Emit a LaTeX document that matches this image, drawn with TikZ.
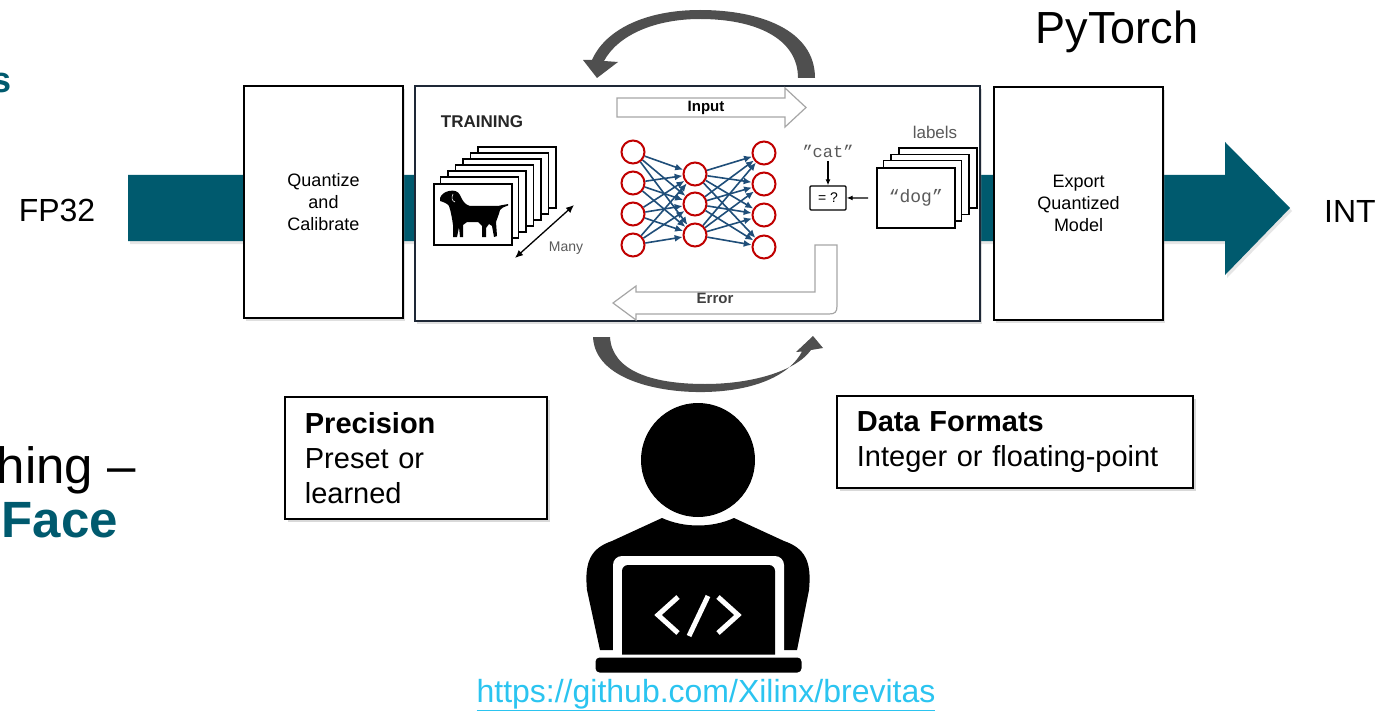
\documentclass[tikz,border=0pt]{standalone}
\usepackage{fontspec}
\setmainfont{Liberation Sans}
\setmonofont{Liberation Mono}
\usetikzlibrary{arrows.meta, shadows, positioning}

\definecolor{flowteal}{HTML}{005A6E}
\definecolor{netred}{HTML}{C00000}
\definecolor{netblue}{HTML}{1F4E79}
\definecolor{bendgrey}{HTML}{4F4F4F}
\definecolor{blockgrey}{HTML}{A6A6A6}
\definecolor{framenavy}{HTML}{1E2836}
\definecolor{linkcyan}{HTML}{2BC4F0}
\definecolor{softgrey}{HTML}{5A5A5A}

\newcommand{\setfs}[2]{\fontsize{#1}{#2}\selectfont}

\tikzset{
  stage/.style={draw, line width=1.8pt, fill=white, align=center, font=\setfs{18}{22},
    drop shadow={opacity=0.25, shadow xshift=2pt, shadow yshift=-3pt}},
  note/.style={draw, line width=1.8pt, fill=white, align=left, anchor=north west,
    inner xsep=20pt, font=\setfs{29}{35},
    drop shadow={opacity=0.3, shadow xshift=3pt, shadow yshift=-3pt}},
  neuron/.style={circle, draw=netred, line width=2pt, fill=white, minimum size=23pt, inner sep=0pt},
  synapse/.style={netblue, line width=1.6pt, -{Latex[length=8pt, width=7pt]}},
  card/.style={draw, line width=1.6pt, fill=white},
  block/.style={draw=blockgrey, line width=1.2pt, fill=white},
  loopfill/.style={fill=bendgrey},
}

\begin{document}
\begin{tikzpicture}[x=1pt, y=-1pt]
  \useasboundingbox (0,0) rectangle (1378,714);
  \clip (0,0) rectangle (1378,714);

  % slide text running in from the left
  \node[anchor=base east, inner sep=0pt, font=\setfs{36}{40}\bfseries, text=flowteal] (titletail) at (12,93) {s};
  \node[anchor=base east, inner sep=0pt, font=\setfs{51}{60}] (linetail) at (136,483) {hing –};
  \node[anchor=base east, inner sep=0pt, font=\setfs{51}{60}\bfseries, text=flowteal] (facetail) at (118,537) {Face};

  % FP32 -> INT flow
  \fill[flowteal, drop shadow={opacity=0.2, shadow xshift=2pt, shadow yshift=-3pt}]
    (128,175) -- (1225,175) -- (1225,142) -- (1290,208) -- (1225,275) -- (1225,241) -- (128,241) -- cycle;
  \node[font=\setfs{32}{38}] (fp) at (57,210) {FP32};
  \node[font=\setfs{32}{38}] (int) at (1350,211) {INT};
  \node[font=\setfs{45}{50}] (torch) at (1117,32) {PyTorch};

  % stages
  \node[stage, minimum width=159pt, minimum height=232pt] (quant) at (323.5,202) {Quantize\\and\\Calibrate};
  \node[stage, draw=framenavy, line width=2.4pt, minimum width=565pt, minimum height=235pt] (train) at (697.5,203.5) {};
  \node[stage, minimum width=169pt, minimum height=233pt] (export) at (1078.5,203.5) {Export\\Quantized\\Model};

  % training data
  \node[font=\setfs{17}{20}\bfseries, text=black!85] (trainlbl) at (482,122) {TRAINING};
  \foreach \k in {6,...,1}
    \draw[card] ({433+7.5*\k},{183-6*\k}) rectangle ++(78,61);
  \node[card, anchor=north west, minimum width=78pt, minimum height=61pt] (photo) at (433,183) {};
  % dog
  \fill (440,198) .. controls (441,195) and (444,192) .. (449,191) .. controls (454,190) and (458,191) .. (460,195)
    .. controls (462,200) and (465,205) .. (470,206) -- (498,206) .. controls (501,205) and (504,205) .. (508,204)
    -- (508,205.5) .. controls (504,207) and (501,208) .. (500,210) .. controls (499,215) and (497,218) .. (496,222)
    -- (497,236) -- (494,237) -- (492,226) -- (489,224) -- (486,228) -- (486,237) -- (482,237) -- (482,226)
    -- (478,222) -- (467,222) -- (463,225) -- (463,237) -- (460,237) -- (459,227) -- (457,237) -- (453,237)
    -- (453,225) .. controls (452,218) and (451,212) .. (449,206) .. controls (447,203) and (443,202) .. (440,201) -- cycle;
  \draw[white, line width=0.6pt] (453,194) .. controls (451,198) and (452,201) .. (455,202);
  \coordinate (manya) at (515,258);
  \coordinate (manyb) at (574,205);
  \draw[line width=1.3pt, {Latex[length=8pt, width=7pt]}-{Latex[length=8pt, width=7pt]}] (manya) -- (manyb);
  \node[font=\setfs{14}{16}, text=softgrey] (many) at (566,248) {Many};

  % network
  \foreach \i/\y in {1/152, 2/183, 3/214, 4/245}
    \node[neuron] (in\i) at (633,\y) {};
  \foreach \i/\y in {1/174, 2/204, 3/235}
    \node[neuron] (hid\i) at (695,\y) {};
  \foreach \i/\y in {1/153, 2/184, 3/215, 4/247}
    \node[neuron] (out\i) at (764,\y) {};
  \foreach \i in {1,...,4}
    \foreach \j in {1,...,3} {
      \draw[synapse] (in\i) -- (hid\j);
      \draw[synapse] (hid\j) -- (out\i);
    }

  % forward and backward passes
  \draw[block] (617,98) -- (785,98) -- (785,88) -- (806,107.5) -- (785,127) -- (785,117) -- (617,117) -- cycle;
  \node[font=\setfs{15}{18}\bfseries] (inputlbl) at (706,107.5) {Input};
  \draw[block] (815,245) -- (837,245) -- (837,306) .. controls (837,312) and (835,314) .. (829,314)
    -- (636,314) -- (636,320) -- (613,303) -- (636,286) -- (636,292) -- (815,292) -- cycle;
  \node[font=\setfs{15}{18}\bfseries, text=black!75] (errorlbl) at (715,298) {Error};

  % labels and comparison
  \node[font=\setfs{17}{20}\ttfamily, text=softgrey] (cat) at (828,151) {”cat”};
  \node[draw, line width=1.3pt, rounded corners=1pt, minimum width=36pt, minimum height=24pt,
    inner sep=0pt, font=\setfs{14}{16}] (eq) at (828,198) {= ?};
  \draw[-{Latex[length=6pt, width=5pt]}, line width=1.2pt] (cat) -- (eq);
  \foreach \k in {3,...,1}
    \draw[card] ({876+7.6*\k},{167-6.3*\k}) rectangle ++(78,60);
  \node[card, anchor=north west, minimum width=78pt, minimum height=60pt,
    font=\setfs{18}{20}\ttfamily, text=softgrey] (dog) at (876,167) {“dog”};
  \node[font=\setfs{17}{20}, text=softgrey] (labels) at (935,132) {labels};
  \draw[-{Latex[length=6pt, width=5pt]}, line width=1.2pt, shorten <=8pt] (dog) -- (eq);

  % loop arrows over and under the training stage
  \fill[loopfill] (815,78) .. controls (815,30) and (760,10) .. (700,10) .. controls (645,10) and (605,30) .. (592,60)
    -- (583,60) -- (597,78) -- (618,62) -- (604,61)
    .. controls (618,35) and (655,19) .. (700,19) .. controls (755,19) and (798,38) .. (798,78) -- cycle;
  \fill[loopfill] (593,337) .. controls (595,380) and (660,393) .. (705,392) .. controls (755,391) and (790,375) .. (802,351.5)
    -- (796,352) -- (813,336) -- (823,348) -- (811,350)
    .. controls (795,372) and (750,384) .. (705,384) .. controls (650,384) and (612,370) .. (610,337) -- cycle;

  % developer at a laptop
  \fill (600,650) -- (587,590) .. controls (584,560) and (592,548) .. (612,541) -- (662,518)
    .. controls (684,528) and (712,528) .. (734,518) -- (784,541)
    .. controls (804,548) and (812,560) .. (809,590) -- (797,650) -- cycle;
  \fill[white] (698,460) circle (61pt);
  \fill (698,460) circle (57pt);
  \fill[white, rounded corners=9pt] (613,556) rectangle (784,662);
  \fill[rounded corners=6pt] (622,565) rectangle (775,662);
  \draw[white, line width=3pt, fill=black, rounded corners=5pt] (594,656) rectangle (803,674);
  \draw[white, line width=5pt] (678,597) -- (658,615) -- (678,633);
  \draw[white, line width=5pt] (708,596) -- (689,636);
  \draw[white, line width=5pt] (718,597) -- (738,615) -- (718,633);

  % notes
  \node[note, text width=222pt, minimum height=122pt] (prec) at (284,396) {\textbf{Precision}\\Preset or\\learned};
  \node[note, text width=316pt, minimum height=92pt] (fmt) at (836,395) {\textbf{Data Formats}\\Integer or floating-point};

  \node[font=\setfs{32}{38}, text=linkcyan] (url) at (706,695) {\underline{https://github.com/Xilinx/brevitas}};
\end{tikzpicture}
\end{document}
